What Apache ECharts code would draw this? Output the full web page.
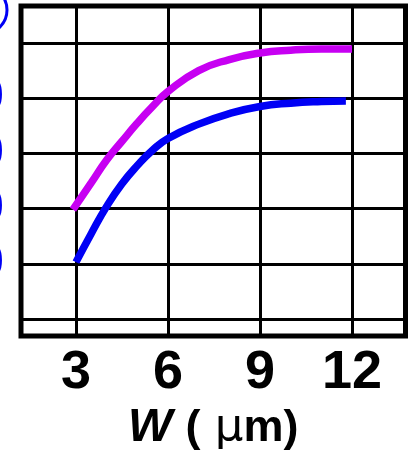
<!DOCTYPE html>
<html>
<head>
<meta charset="utf-8">
<script src="https://cdn.jsdelivr.net/npm/echarts@6/dist/echarts.min.js"></script>
<style>
  html, body { margin: 0; padding: 0; background: #fff; }
  #main { width: 414px; height: 452px; }
</style>
</head>
<body>
<div id="main"></div>
<script type="text/javascript">
// 数据
var xTicks = [3, 6, 9, 12];
var yTicks = [0, 1, 2, 3, 4, 5];
var yLabelTicks = [1, 2, 3, 4];
var upperX = [2.9, 3.5, 4, 4.5, 5, 5.5, 6, 7, 8, 9, 10, 11, 12];
var upperY = [1.98, 2.47, 2.88, 3.22, 3.55, 3.85, 4.12, 4.5, 4.7, 4.82, 4.87, 4.89, 4.89];
var lowerX = [3, 3.5, 4, 4.5, 5, 5.5, 6, 7, 8, 9, 10, 11, 11.8];
var lowerY = [1.03, 1.55, 2.04, 2.45, 2.78, 3.06, 3.27, 3.53, 3.72, 3.85, 3.91, 3.94, 3.95];

function pairs(xs, ys) {
  var out = [];
  for (var i = 0; i < xs.length; i++) {
    out.push([xs[i], ys[i]]);
  }
  return out;
}

var myChart = echarts.init(document.getElementById('main'));

var option = {
  animation: false,
  backgroundColor: '#fff',
  grid: {
    left: 21, top: 6, right: 8.5, bottom: 116,
    containLabel: false,
    outerBoundsMode: 'none',
    show: true, borderColor: '#000', borderWidth: 5, backgroundColor: 'transparent'
  },
  graphic: [{
    type: 'circle',
    shape: { cx: -17, cy: 10, r: 24 },
    style: { fill: 'none', stroke: '#0000f5', lineWidth: 3 }
  }],
  xAxis: {
    type: 'value',
    min: 1.207, max: 13.744,
    axisLine: { show: false },
    axisTick: { show: false, customValues: xTicks },
    splitLine: { show: true, lineStyle: { color: '#000', width: 3 } },
    axisLabel: {
      customValues: xTicks,
      margin: 10,
      color: '#000',
      fontSize: 54,
      fontWeight: 'bold',
      fontFamily: 'Liberation Sans'
    },
    name: '{w|W }{p|(}{mu| μ}{p|m)}',
    nameLocation: 'middle',
    nameGap: 55,
    nameTextStyle: {
      rich: {
        w: { fontSize: 47, fontWeight: 'bold', fontStyle: 'italic', fontFamily: 'Liberation Sans', color: '#000' },
        p: { fontSize: 45, fontWeight: 'bold', fontFamily: 'Liberation Sans', color: '#000' },
        mu: { fontSize: 45, fontFamily: 'DejaVu Sans', color: '#000' }
      }
    }
  },
  yAxis: {
    type: 'value',
    min: -0.308, max: 5.67,
    axisLine: { show: false },
    axisTick: { show: false, customValues: yTicks },
    splitLine: { show: true, lineStyle: { color: '#000', width: 3 } },
    axisLabel: {
      customValues: yLabelTicks,
      margin: 17,
      color: '#0000f5',
      fontSize: 48,
      fontWeight: 'bold',
      fontFamily: 'Liberation Sans',
      formatter: function (v) { return String(v * 20); }
    }
  },
  series: [{
    name: 'upper',
    type: 'line',
    data: pairs(upperX, upperY),
    smooth: 0.5,
    showSymbol: false,
    lineStyle: { color: '#c700f2', width: 7.5, cap: 'butt' },
    z: 3
  }, {
    name: 'lower',
    type: 'line',
    data: pairs(lowerX, lowerY),
    smooth: 0.5,
    showSymbol: false,
    lineStyle: { color: '#0000f5', width: 7.5, cap: 'butt' },
    z: 3
  }]
};

myChart.setOption(option);
</script>
</body>
</html>
